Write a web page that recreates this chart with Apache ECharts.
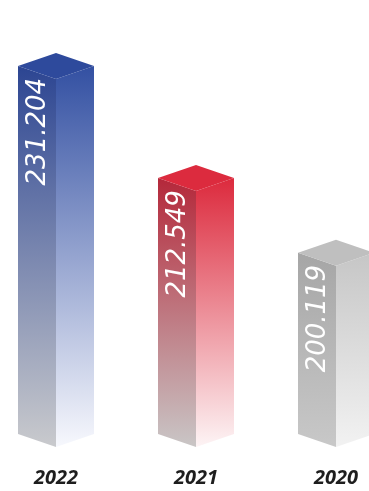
<!DOCTYPE html>
<html>
<head>
<meta charset="utf-8">
<script src="https://cdn.jsdelivr.net/npm/echarts@6/dist/echarts.min.js"></script>
<style>
html,body{margin:0;padding:0;background:#fff;overflow:hidden;width:369px;height:491px;position:relative;}
#main{position:absolute;left:-14px;top:0;width:420px;height:491px;}
</style>
</head>
<body>
<div id="main"></div>
<script>
// ---- data ----
const categories = ['2022', '2021', '2020'];
const values = [231.204, 212.549, 200.119];
const valueLabels = ['231.204', '212.549', '200.119'];

// ---- styles ----
const axisMin = 170;
const axisMax = 240;
const palette = [
  { leftTop: '#2c4592', leftBot: '#c9cacd', rightTop: '#3350a2', rightBot: '#f7f8fd', top: '#2e4a9c' },
  { leftTop: '#b4283a', leftBot: '#c9c6c6', rightTop: '#dc2a3d', rightBot: '#fdf4f5', top: '#dc2b3e' },
  { leftTop: '#a6a6a6', leftBot: '#c8c8c8', rightTop: '#c6c6c6', rightBot: '#f2f2f2', top: '#bfbfbf' }
];

const chart = echarts.init(document.getElementById('main'), null, { renderer: 'canvas' });

function grad(c1, c2) {
  return new echarts.graphic.LinearGradient(0, 0, 0, 1, [
    { offset: 0, color: c1 },
    { offset: 1, color: c2 }
  ]);
}

function renderItem(params, api) {
  const i = params.dataIndex;
  const top = api.coord([api.value(0), api.value(1)]);
  const bot = api.coord([api.value(0), axisMin]);
  const cx = top[0];
  const yt = top[1];
  const yb = bot[1];
  const hw = 38;   // half width of cube
  const d = 13;    // depth offset
  const c = palette[i];
  return {
    type: 'group',
    children: [
      {
        type: 'polygon',
        shape: { points: [[cx - hw, yt - d], [cx, yt], [cx, yb], [cx - hw, yb - d]] },
        style: { fill: grad(c.leftTop, c.leftBot) }
      },
      {
        type: 'polygon',
        shape: { points: [[cx, yt], [cx + hw, yt - d], [cx + hw, yb - d], [cx, yb]] },
        style: { fill: grad(c.rightTop, c.rightBot) }
      },
      {
        type: 'polygon',
        shape: { points: [[cx, yt], [cx - hw, yt - d], [cx, yt - 2 * d], [cx + hw, yt - d]] },
        style: { fill: c.top }
      },
      {
        type: 'text',
        x: cx - 18,
        y: yt - 1,
        rotation: Math.PI / 2,
        style: {
          text: valueLabels[i],
          fill: '#ffffff',
          fontSize: 26,
          fontStyle: 'italic',
          fontFamily: 'DejaVu Sans',
          align: 'right',
          verticalAlign: 'middle',
          shadowColor: 'rgba(0,0,0,0.55)',
          shadowBlur: 3,
          shadowOffsetX: 2,
          shadowOffsetY: 0
        }
      }
    ]
  };
}

chart.setOption({
  backgroundColor: '#ffffff',
  animation: false,
  grid: { left: 0, right: 0, top: 26, bottom: 44 },
  xAxis: {
    type: 'category',
    data: categories,
    axisLine: { show: false },
    axisTick: { show: false },
    splitLine: { show: false },
    axisLabel: {
      margin: 21,
      color: '#1e1e1e',
      fontSize: 20,
      fontWeight: 'bold',
      fontStyle: 'italic',
      fontFamily: 'Open Sans'
    }
  },
  yAxis: {
    type: 'value',
    min: axisMin,
    max: axisMax,
    show: false,
    splitLine: { show: false }
  },
  series: [{
    type: 'custom',
    renderItem: renderItem,
    clip: false,
    data: values.map((v, i) => [i, v])
  }]
});
</script>
</body>
</html>
